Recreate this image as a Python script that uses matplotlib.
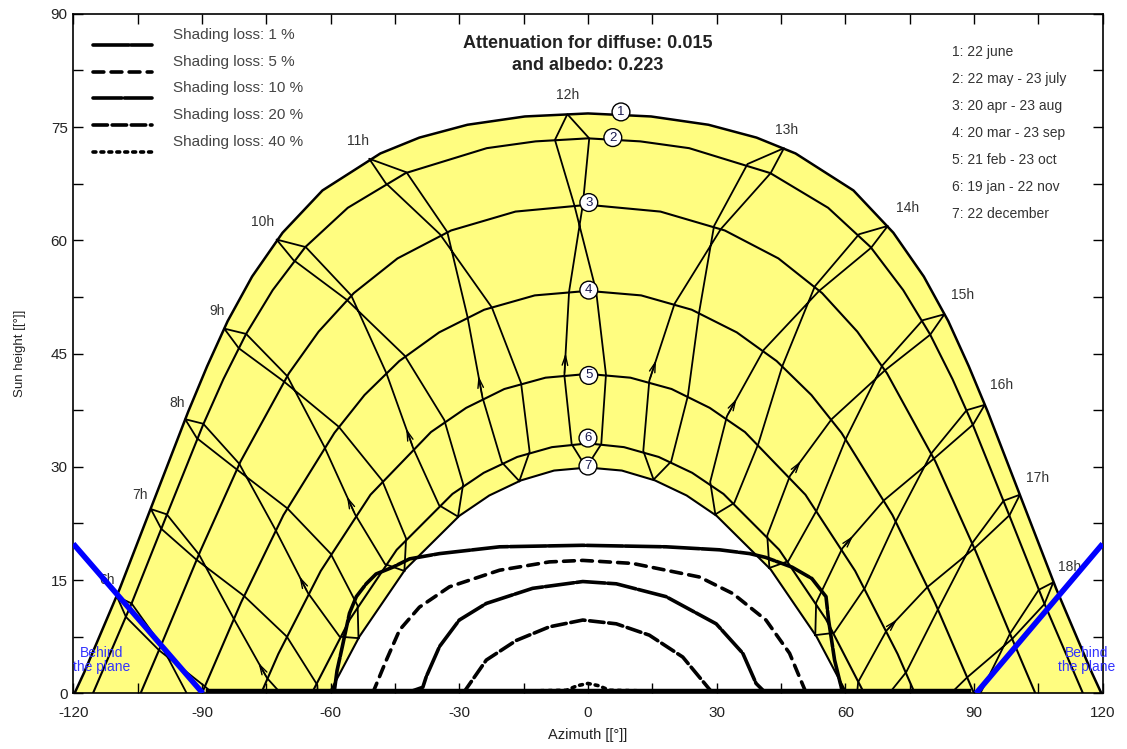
import numpy as np
import matplotlib
matplotlib.use("Agg")
import matplotlib.pyplot as plt

plt.rcParams['font.family'] = ['Liberation Sans', 'DejaVu Sans']
plt.rcParams['axes.unicode_minus'] = False

# ---- sun paths: azimuth [deg], sun height [deg] ----
path1_az = [-119.7, -117.5, -109.2, -101.3, -93.2, -88.8, -84.0, -78.3, -71.2, -61.9, -48.4, -39.3, -28.1, -14.7, 0.0,
            14.7, 28.1, 39.3, 48.4, 61.9, 71.2, 78.3, 84.0, 88.8, 93.2, 101.3, 109.2, 117.5, 119.7]
path1_h = [0.0, 2.7, 13.8, 25.4, 37.3, 43.3, 49.3, 55.2, 61.0, 66.6, 71.5, 73.6, 75.3, 76.4, 76.8,
           76.4, 75.3, 73.6, 71.5, 66.6, 61.0, 55.2, 49.3, 43.3, 37.3, 25.4, 13.8, 2.7, 0.0]
path2_az = [-115.4, -106.4, -98.2, -89.7, -85.0, -79.7, -73.5, -65.9, -56.0, -42.5, -23.6, -12.2, 0.0,
            12.2, 23.6, 42.5, 56.0, 65.9, 73.5, 79.7, 85.0, 89.7, 98.2, 106.4, 115.4]
path2_h = [0.0, 11.9, 23.6, 35.6, 41.6, 47.6, 53.4, 59.1, 64.3, 68.9, 72.2, 73.1, 73.5,
           73.1, 72.2, 68.9, 64.3, 59.1, 53.4, 47.6, 41.6, 35.6, 23.6, 11.9, 0.0]
path3_az = [-104.3, -99.2, -90.4, -81.0, -69.7, -62.8, -54.6, -44.4, -31.9, -16.9, 0.0,
            16.9, 31.9, 44.4, 54.6, 62.8, 69.7, 81.0, 90.4, 99.2, 104.3]
path3_h = [0.0, 6.8, 18.8, 30.7, 42.4, 47.9, 53.0, 57.6, 61.3, 63.8, 64.7,
           63.8, 61.3, 57.6, 53.0, 47.9, 42.4, 30.7, 18.8, 6.8, 0.0]
path4_az = [-90.0, -80.9, -71.0, -59.1, -52.1, -44.0, -34.7, -24.2, -12.4, 0.0,
            12.4, 24.2, 34.7, 44.0, 52.1, 59.1, 71.0, 80.9, 90.0]
path4_h = [0.0, 12.0, 23.6, 34.5, 39.5, 44.0, 47.8, 50.8, 52.7, 53.3,
           52.7, 50.8, 47.8, 44.0, 39.5, 34.5, 23.6, 12.0, 0.0]
path5_az = [-76.2, -72.2, -62.3, -50.7, -36.6, -28.4, -19.5, -9.9, 0.0, 9.9, 19.5, 28.4, 36.6, 50.7, 62.3, 72.2, 76.2]
path5_h = [0.0, 5.2, 16.2, 26.3, 34.6, 37.8, 40.3, 41.8, 42.3, 41.8, 40.3, 37.8, 34.6, 26.3, 16.2, 5.2, 0.0]
path6_az = [-64.4, -55.5, -44.6, -31.6, -24.3, -16.5, -8.4, 0.0, 8.4, 16.5, 24.3, 31.6, 44.6, 55.5, 64.4]
path6_h = [0.0, 9.8, 19.0, 26.4, 29.2, 31.3, 32.6, 33.1, 32.6, 31.3, 29.2, 26.4, 19.0, 9.8, 0.0]
path7_az = [-60.3, -53.3, -42.6, -30.0, -23.0, -15.6, -7.9, 0.0, 7.9, 15.6, 23.0, 30.0, 42.6, 53.3, 60.3]
path7_h = [0.0, 7.5, 16.4, 23.5, 26.2, 28.2, 29.5, 29.9, 29.5, 28.2, 26.2, 23.5, 16.4, 7.5, 0.0]

date_labels = ['1: 22 june', '2: 22 may - 23 july', '3: 20 apr - 23 aug', '4: 20 mar - 23 sep',
               '5: 21 feb - 23 oct', '6: 19 jan - 22 nov', '7: 22 december']

# ---- hour lines: points in date order Dec, Jan, Feb, Mar, Apr, May, Jun, Jul, Aug, Sep, Oct, Nov, Dec ----
hour_labels = ['6h', '7h', '8h', '9h', '10h', '11h', '12h', '13h', '14h', '15h', '16h', '17h', '18h']
hour_az = [
    [-71.0, -75.5, -83.6, -91.6, -99.5, -106.4, -109.8, -107.7, -100.0, -89.3, -79.3, -71.9, -71.0],
    [-62.7, -67.0, -74.8, -82.6, -90.7, -98.2, -101.9, -99.5, -91.3, -80.2, -70.2, -63.1, -62.7],
    [-53.5, -57.9, -65.3, -72.9, -81.3, -89.7, -93.9, -91.2, -82.0, -70.1, -60.0, -53.7, -53.5],
    [-42.8, -47.3, -54.3, -61.5, -70.1, -79.7, -84.8, -81.4, -70.9, -58.1, -48.0, -42.4, -42.8],
    [-30.3, -34.7, -40.7, -47.0, -55.2, -65.8, -72.6, -68.7, -56.2, -42.7, -33.5, -29.1, -30.3],
    [-16.0, -20.1, -24.6, -28.1, -32.8, -42.3, -51.0, -47.2, -34.5, -22.4, -15.6, -13.6, -16.0],
    [-0.4, -3.8, -5.5, -4.4, -1.2, 0.3, -4.8, -7.7, -3.2, 1.9, 4.2, 3.1, -0.4],
    [15.3, 12.9, 14.3, 20.2, 31.0, 42.6, 45.7, 37.2, 29.4, 25.9, 23.3, 19.4, 15.3],
    [29.7, 28.5, 32.4, 41.0, 53.9, 66.0, 69.9, 63.2, 52.9, 45.3, 39.7, 34.1, 29.7],
    [42.3, 41.8, 47.1, 56.8, 69.3, 79.8, 83.1, 78.0, 68.6, 60.2, 53.4, 46.7, 42.3],
    [53.0, 53.2, 59.3, 69.1, 80.7, 89.8, 92.5, 88.3, 80.1, 71.8, 64.6, 57.4, 53.0],
    [62.3, 63.0, 69.6, 79.2, 90.1, 98.3, 100.7, 96.9, 89.6, 81.6, 74.2, 66.7, 62.3],
    [70.6, 71.5, 78.7, 88.4, 98.9, 106.4, 108.5, 105.1, 98.4, 90.7, 83.0, 75.2, 70.6],
]
hour_h = [
    [-14.0, -14.4, -9.9, -2.1, 6.4, 11.9, 12.8, 10.1, 5.7, 0.9, -4.1, -9.9, -14.0],
    [-3.0, -2.9, 2.0, 9.9, 18.4, 23.7, 24.4, 21.8, 17.7, 12.9, 7.5, 1.1, -3.0],
    [7.3, 7.5, 13.3, 21.7, 30.4, 35.7, 36.3, 33.8, 29.7, 24.5, 18.5, 11.6, 7.3],
    [16.2, 17.1, 23.7, 32.7, 42.0, 47.6, 48.3, 45.7, 41.3, 35.3, 28.2, 20.5, 16.2],
    [23.4, 24.9, 32.4, 42.4, 52.7, 59.1, 60.1, 57.4, 52.1, 44.7, 36.2, 27.7, 23.4],
    [28.1, 30.6, 39.2, 49.9, 61.1, 69.0, 70.8, 67.6, 60.8, 51.1, 41.1, 32.0, 28.1],
    [29.9, 33.0, 42.1, 53.2, 64.7, 73.5, 76.7, 73.3, 64.7, 53.3, 42.2, 33.0, 29.9],
    [28.3, 32.1, 41.4, 51.6, 61.5, 68.9, 72.2, 70.1, 61.9, 50.4, 39.4, 30.7, 28.3],
    [23.7, 28.0, 36.7, 45.5, 53.3, 59.0, 61.9, 60.8, 53.9, 43.3, 33.0, 25.2, 23.7],
    [16.6, 20.9, 28.8, 36.3, 42.8, 47.5, 50.2, 49.4, 43.4, 33.8, 24.3, 17.5, 16.6],
    [7.7, 12.0, 19.2, 25.6, 31.1, 35.6, 38.2, 37.5, 31.8, 22.8, 14.0, 8.0, 7.7],
    [-2.5, 1.5, 8.3, 14.1, 19.2, 23.6, 26.3, 25.5, 19.9, 11.1, 2.8, -2.5, -2.5],
    [-13.5, -9.5, -3.3, 2.1, 7.2, 11.8, 14.7, 13.7, 7.9, -0.9, -9.0, -13.9, -13.5],
]

# ---- shading loss iso-lines ----
loss_labels = ['Shading loss: 1 %', 'Shading loss: 5 %', 'Shading loss: 10 %',
               'Shading loss: 20 %', 'Shading loss: 40 %']
loss1_az = [-59.2, -58.5, -57.3, -55.6, -54.0, -51.7, -49.4, -45.5, -41.6, -34.6, -20.6, -1.3, 18.2, 30.7,
            37.7, 41.4, 47.6, 52.2, 55.5, 56.1, 57.5, 59.4]
loss1_h = [0.0, 3.0, 6.1, 10.6, 12.8, 14.5, 15.8, 16.7, 17.8, 18.5, 19.4, 19.6, 19.4, 19.0,
           18.5, 18.0, 16.7, 15.2, 12.8, 9.7, 4.4, 0.0]
loss5_az = [-50.2, -47.0, -43.9, -39.3, -32.3, -20.6, -9.0, -1.2, 10.4, 26.0, 33.8, 41.5, 47.0, 50.9]
loss5_h = [0.0, 4.4, 8.4, 11.4, 14.1, 16.3, 17.4, 17.6, 17.2, 15.4, 13.2, 9.7, 5.3, 0.0]
loss10_az = [-42.5, -38.5, -37.7, -34.6, -30.0, -23.7, -12.9, -1.2, 6.6, 18.2, 29.9, 36.1, 39.2, 41.5]
loss10_h = [0.0, 0.8, 2.2, 6.2, 9.7, 11.9, 13.9, 14.8, 14.5, 12.8, 9.2, 5.3, 1.3, 0.0]
loss20_az = [-29.1, -23.7, -16.7, -9.0, -1.2, 6.6, 14.3, 22.1, 29.1]
loss20_h = [0.0, 4.4, 7.0, 8.8, 9.7, 9.2, 7.7, 4.8, 0.0]
loss40_az = [-29.5, -15.0, -5.0, -2.5, 0.0, 2.5, 5.0, 15.0, 29.5]
loss40_h = [0.3, 0.3, 0.4, 1.0, 1.3, 1.0, 0.4, 0.3, 0.3]
horizon_az = [-88.7, 88.9]
horizon_h = [0.3, 0.3]

# ---- "behind the plane" limits ----
behind_left_az = [-120.0, -89.8]
behind_left_h = [19.8, 0.0]
behind_right_az = [90.5, 120.0]
behind_right_h = [0.0, 19.8]

yellow = '#FFFD80'
txt_gray = '#333333'

fig = plt.figure(figsize=(11.27, 7.49), dpi=100)
ax = fig.add_axes([0.0650, 0.0744, 0.9134, 0.9072])

# yellow band between the June and December paths
outline_az = np.r_[path1_az, path7_az[::-1]]
outline_h = np.r_[path1_h, path7_h[::-1]]
ax.fill(outline_az, outline_h, color=yellow, lw=0, zorder=1)

paths = [(path1_az, path1_h), (path2_az, path2_h), (path3_az, path3_h), (path4_az, path4_h),
         (path5_az, path5_h), (path6_az, path6_h), (path7_az, path7_h)]
for i, (pa, ph) in enumerate(paths):
    ax.plot(pa, ph, color='black', lw=1.8 if i == 0 else 1.5, zorder=3, solid_joinstyle='round')

for az, h in zip(hour_az, hour_h):
    ax.plot(az, h, color='black', lw=1.3, zorder=2, solid_joinstyle='round')
    # small direction arrow on the feb -> mar branch
    if h[2] > 0:
        tip = (az[2] + 0.3 * (az[3] - az[2]), h[2] + 0.3 * (h[3] - h[2]))
        ax.annotate('', xy=tip, xytext=(az[2], h[2]),
                    arrowprops=dict(arrowstyle='->,head_length=0.7,head_width=0.2', color='black', lw=1.0),
                    zorder=2)

# hour labels
hour_lbl_az = [-112.1, -104.4, -95.8, -86.5, -75.8, -53.6, -4.7, 46.3, 74.6, 87.4, 96.5, 104.9, 112.4]
hour_lbl_h = [15.0, 26.2, 38.4, 50.6, 62.4, 73.1, 79.2, 74.6, 64.3, 52.8, 40.8, 28.5, 16.7]
for lbl, x, y in zip(hour_labels, hour_lbl_az, hour_lbl_h):
    ax.text(x, y, lbl, fontsize=10, color=txt_gray, ha='center', va='center', zorder=2)

# shading loss lines
loss_styles = [dict(ls=(0, (10, 0.6)), lw=2.6), dict(ls=(0, (3, 2)), lw=2.6), dict(ls=(0, (8, 0.7)), lw=2.6),
               dict(ls=(0, (4, 1.3)), lw=2.6), dict(ls=(0, (0.8, 1.4)), lw=2.6)]
loss_lines = [(loss1_az, loss1_h), (loss5_az, loss5_h), (loss10_az, loss10_h),
              (loss20_az, loss20_h), (loss40_az, loss40_h)]
for (la, lh), st in zip(loss_lines, loss_styles):
    ax.plot(la, lh, color='black', zorder=4, solid_capstyle='round', dash_capstyle='round', **st)
ax.plot(horizon_az, horizon_h, color='black', lw=3.2, zorder=4)

# behind the plane
ax.plot(behind_left_az, behind_left_h, color='#0000FF', lw=4, zorder=5, solid_capstyle='butt')
ax.plot(behind_right_az, behind_right_h, color='#0000FF', lw=4, zorder=5, solid_capstyle='butt')
ax.text(-113.5, 4.4, 'Behind\nthe plane', color='#3333FF', fontsize=10, ha='center', va='center',
        linespacing=1.0, zorder=6, clip_on=False)
ax.text(116.3, 4.4, 'Behind\nthe plane', color='#3333FF', fontsize=10, ha='center', va='center',
        linespacing=1.0, zorder=6, clip_on=False)

# numbered circles on the paths
circle_az = [7.7, 5.8, 0.2, 0.2, 0.2, 0.0, 0.0]
circle_h = [77.0, 73.6, 65.0, 53.4, 42.1, 33.8, 30.1]
for i, (x, y) in enumerate(zip(circle_az, circle_h)):
    ax.text(x, y, str(i + 1), fontsize=9.5, color='#1a1a50', ha='center', va='center', zorder=7,
            bbox=dict(boxstyle='circle,pad=0.22', fc='white', ec='black', lw=1.0))

# title inside the frame
ax.text(0, 84.6, 'Attenuation for diffuse: 0.015\nand albedo: 0.223', fontsize=13, fontweight='bold',
        color='#222222', ha='center', va='center', linespacing=1.35, zorder=8)

# shading loss legend (drawn by hand, samples sit a bit below the text)
for i, (lbl, st) in enumerate(zip(loss_labels, loss_styles)):
    yt = 0.9688 - 0.0393 * i
    ax.plot([0.0191, 0.0761], [yt - 0.0147, yt - 0.0147], transform=ax.transAxes, color='black',
            zorder=8, dash_capstyle='round', solid_capstyle='round', **st)
    ax.text(0.0972, yt, lbl, transform=ax.transAxes, fontsize=11, color='#444444', va='center', zorder=8)

# date legend
for i, lbl in enumerate(date_labels):
    ax.text(0.854, 0.944 - 0.0397 * i, lbl, transform=ax.transAxes, fontsize=10, color=txt_gray,
            va='center', zorder=8)

ax.set_xlim(-120, 120)
ax.set_ylim(0, 90)
ax.set_xticks(np.arange(-120, 121, 30))
ax.set_xticks(np.arange(-120, 121, 15), minor=True)
ax.set_yticks(np.arange(0, 91, 15))
ax.set_yticks(np.arange(0, 91, 7.5), minor=True)
ax.tick_params(which='both', direction='in', top=True, right=True, length=7, width=1.0, colors='black',
               labelsize=11, labelcolor='#222222')
ax.tick_params(axis='x', pad=9)
ax.tick_params(axis='y', pad=4)
for sp in ax.spines.values():
    sp.set_linewidth(1.2)
ax.set_xlabel('Azimuth [[°]]', fontsize=10.5, color='#222222', labelpad=6)
ax.set_ylabel('Sun height [[°]]', fontsize=9.5, color='#222222', labelpad=18)

fig.savefig('out.png', dpi=100)
